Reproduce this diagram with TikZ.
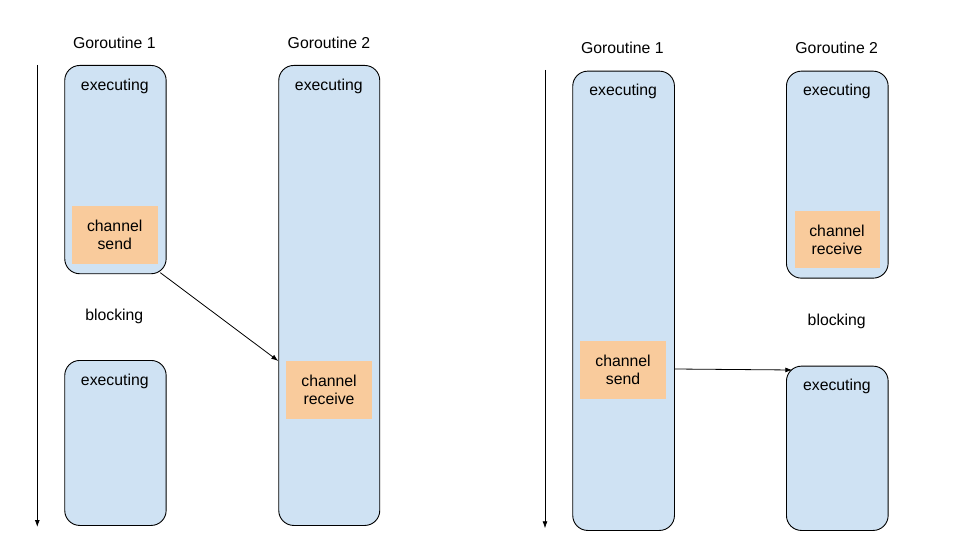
\documentclass[tikz,border=0pt]{standalone}
\usepackage{fontspec}
\setmainfont{Liberation Sans}
\usetikzlibrary{arrows.meta,calc}
\definecolor{boxblue}{HTML}{CFE2F3}
\definecolor{boxorange}{HTML}{F9CB9C}
\begin{document}
\begin{tikzpicture}[x=1pt,y=-1pt,
  lane/.style={draw=black, line width=0.9pt, fill=boxblue, rounded corners=15pt, inner sep=0pt, anchor=north west},
  op/.style={fill=boxorange, inner sep=0pt, align=center, anchor=north west, font=\fontsize{15.8}{18.3}\selectfont},
  txt/.style={inner sep=0pt, anchor=base, font=\fontsize{15.8}{18.3}\selectfont},
  conn/.style={line width=0.8pt, -{Latex[length=7pt,width=5pt]}}]
\useasboundingbox (0,0) rectangle (956,559);
% ---------- left panel ----------
\coordinate (t1s) at (37.3,65);
\coordinate (t1e) at (37.3,527);
\draw[conn] (t1s) -- (t1e);
\node[txt] (l1) at (114.3,48.3) {Goroutine 1};
\node[txt] (l2) at (329,48.3) {Goroutine 2};
\node[lane, minimum width=101.4pt, minimum height=208.3pt] (g1a) at (64.3,65) {};
\node[lane, minimum width=101.4pt, minimum height=165pt] (g1b) at (64.3,360) {};
\node[lane, minimum width=101pt, minimum height=460pt] (g2) at (278.3,65) {};
\node[txt] (e1) at (114.8,91) {executing};
\node[txt] (e2) at (114.8,385.7) {executing};
\node[txt] (e3) at (328.8,91) {executing};
\node[txt] (b1) at (114.3,320) {blocking};
\node[op, minimum width=85.6pt, minimum height=57.6pt] (cs1) at (71.7,205.7) {channel\\send};
\node[op, minimum width=85.7pt, minimum height=57.3pt] (cr1) at (286,361) {channel\\receive};
\coordinate (a1s) at ($(g1a.south east)+(-6.4,-1.6)$);
\draw[conn] (a1s) -- (g2.west |- cr1.north);
% ---------- right panel ----------
\coordinate (t2s) at (545,70);
\coordinate (t2e) at (545,528.3);
\draw[conn] (t2s) -- (t2e);
\node[txt] (r1) at (622.3,54) {Goroutine 1};
\node[txt] (r2) at (836.7,54) {Goroutine 2};
\node[lane, minimum width=101.7pt, minimum height=459.3pt] (h1) at (572.3,70.7) {};
\node[lane, minimum width=101.7pt, minimum height=207pt] (h2a) at (786,70.7) {};
\node[lane, minimum width=101.7pt, minimum height=164.3pt] (h2b) at (786,365.7) {};
\node[txt] (f1) at (623.2,95.7) {executing};
\node[txt] (f2) at (836.9,95.7) {executing};
\node[txt] (f3) at (836.9,390.7) {executing};
\node[txt] (b2) at (836.7,325) {blocking};
\node[op, minimum width=85.7pt, minimum height=57.7pt] (cs2) at (580,341) {channel\\send};
\node[op, minimum width=85pt, minimum height=56.7pt] (cr2) at (794.3,211) {channel\\receive};
\coordinate (a2s) at (h1.east |- 0,369);
\coordinate (a2e) at (792.3,370);
\draw[conn] (a2s) -- (a2e);
\end{tikzpicture}
\end{document}
